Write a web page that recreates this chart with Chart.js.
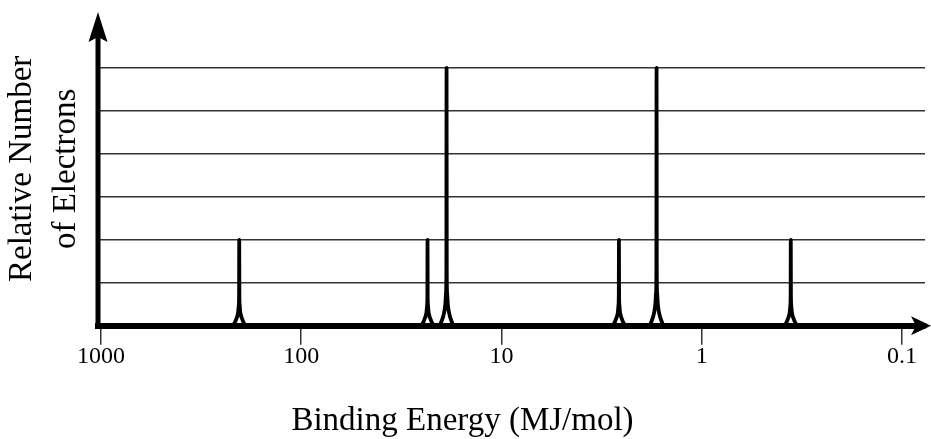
<!DOCTYPE html>
<html>
<head>
<meta charset="utf-8">
<script src="https://cdn.jsdelivr.net/npm/chart.js@4/dist/chart.umd.min.js"></script>
<style>
  html, body { margin: 0; padding: 0; background: #ffffff; }
  #wrap { width: 931px; height: 439px; }
</style>
</head>
<body>
<div id="wrap"><canvas id="c" width="931" height="439"></canvas></div>
<script>
// Binding energies (MJ/mol) along the traced spectrum line
const energies = [
  1000,
  218.59, 216.10, 213.61, 210.69, 208.28, 206.37, 205.18, 204.35, 204,
  203.65, 202.82, 201.66, 199.80, 197.52, 194.82, 192.58, 190.39,
  25.07, 24.79, 24.50, 24.17, 23.89, 23.67, 23.536, 23.440, 23.4,
  23.360, 23.265, 23.132, 22.919, 22.657, 22.347, 22.090, 21.839,
  20.33, 20.05, 19.78, 19.505, 19.261, 19.061, 18.930, 18.843, 18.8,
  18.757, 18.671, 18.542, 18.350, 18.120, 17.871, 17.626, 17.385,
  2.775, 2.744, 2.712, 2.675, 2.644, 2.620, 2.605, 2.5945, 2.59,
  2.5855, 2.5751, 2.5603, 2.5367, 2.5078, 2.4735, 2.4450, 2.4172,
  1.8168, 1.7919, 1.7674, 1.7430, 1.7212, 1.7034, 1.6916, 1.6839, 1.68,
  1.6761, 1.6685, 1.6570, 1.6398, 1.6193, 1.5970, 1.5751, 1.5535,
  0.38467, 0.38029, 0.37591, 0.37078, 0.36654, 0.36316, 0.36108, 0.35962, 0.359,
  0.35838, 0.35693, 0.35488, 0.35162, 0.34760, 0.34285, 0.33890, 0.33505,
  0.0767
];
// Relative number of electrons at each of those energies
const counts = [
  0,
  0, 0.047, 0.093, 0.163, 0.233, 0.326, 0.465, 0.698, 2,
  0.698, 0.465, 0.326, 0.233, 0.163, 0.093, 0.047, 0,
  0, 0.047, 0.093, 0.163, 0.233, 0.326, 0.465, 0.698, 2,
  0.698, 0.465, 0.326, 0.233, 0.163, 0.093, 0.047, 0,
  0, 0.07, 0.14, 0.233, 0.349, 0.512, 0.744, 1.163, 6,
  1.163, 0.744, 0.512, 0.349, 0.233, 0.14, 0.07, 0,
  0, 0.047, 0.093, 0.163, 0.233, 0.326, 0.465, 0.698, 2,
  0.698, 0.465, 0.326, 0.233, 0.163, 0.093, 0.047, 0,
  0, 0.07, 0.14, 0.233, 0.349, 0.512, 0.744, 1.163, 6,
  1.163, 0.744, 0.512, 0.349, 0.233, 0.14, 0.07, 0,
  0, 0.047, 0.093, 0.163, 0.233, 0.326, 0.465, 0.698, 2,
  0.698, 0.465, 0.326, 0.233, 0.163, 0.093, 0.047, 0,
  0
];
const xTickValues = [1000, 100, 10, 1, 0.1];
const xTickLabels = ['1000', '100', '10', '1', '0.1'];
const yGridValues = [0, 1, 2, 3, 4, 5, 6];
const xTitle = 'Binding Energy (MJ/mol)';
const yTitle = ['Relative Number', 'of Electrons'];

const FONT = "'Liberation Serif', 'Times New Roman', serif";

const points = energies.map((e, i) => ({ x: e, y: counts[i] }));

const arrowPlugin = {
  id: 'axisArrows',
  afterDraw(chart) {
    const ctx = chart.ctx;
    const a = chart.chartArea;
    const x0 = a.left;
    const yb = a.bottom;
    ctx.save();
    ctx.fillStyle = '#000';
    ctx.strokeStyle = '#000';
    // vertical axis shaft
    ctx.lineWidth = 5;
    ctx.beginPath();
    ctx.moveTo(x0, yb + 3);
    ctx.lineTo(x0, a.top + 24);
    ctx.stroke();
    // vertical arrow head
    ctx.beginPath();
    ctx.moveTo(x0, a.top);
    ctx.lineTo(x0 + 9.5, a.top + 30);
    ctx.lineTo(x0, a.top + 25);
    ctx.lineTo(x0 - 9.5, a.top + 30);
    ctx.closePath();
    ctx.fill();
    // horizontal arrow head
    const tipX = chart.width;
    ctx.beginPath();
    ctx.moveTo(tipX, yb);
    ctx.lineTo(tipX - 20, yb - 9.5);
    ctx.lineTo(tipX - 15, yb);
    ctx.lineTo(tipX - 20, yb + 9.5);
    ctx.closePath();
    ctx.fill();
    ctx.restore();
  }
};

new Chart(document.getElementById('c'), {
  type: 'line',
  data: {
    datasets: [{
      data: points,
      borderColor: '#000',
      borderWidth: 3.8,
      pointRadius: 0,
      fill: false,
      cubicInterpolationMode: 'monotone',
      borderJoinStyle: 'round',
      borderCapStyle: 'round'
    }]
  },
  options: {
    responsive: false,
    animation: false,
    events: [],
    layout: { padding: { top: 12, right: 6, left: 0, bottom: 0 } },
    plugins: {
      legend: { display: false },
      tooltip: { enabled: false },
      title: {
        display: true,
        position: 'bottom',
        text: xTitle,
        color: '#000',
        font: { family: FONT, size: 33, weight: 'normal', lineHeight: 1.1 },
        padding: { top: 0, bottom: 0 }
      }
    },
    scales: {
      x: {
        type: 'logarithmic',
        reverse: true,
        min: 0.0767,
        max: 1035,
        afterBuildTicks(scale) {
          scale.ticks = xTickValues.map(v => ({ value: v }));
        },
        afterFit(scale) { scale.height = 77; },
        ticks: {
          autoSkip: false,
          maxRotation: 0,
          minRotation: 0,
          padding: 0,
          color: '#000',
          font: { family: FONT, size: 24, lineHeight: 1 },
          callback(value) {
            const i = xTickValues.indexOf(value);
            return i >= 0 ? xTickLabels[i] : '';
          }
        },
        grid: {
          display: true,
          drawOnChartArea: false,
          drawTicks: true,
          tickLength: 19,
          color: '#333',
          lineWidth: 1.5
        },
        border: { display: true, color: '#000', width: 6 }
      },
      y: {
        type: 'linear',
        min: 0,
        max: 7.302,
        afterBuildTicks(scale) {
          scale.ticks = yGridValues.map(v => ({ value: v }));
        },
        afterFit(scale) { scale.width = 98; },
        ticks: { display: false },
        grid: {
          display: true,
          drawOnChartArea: true,
          drawTicks: false,
          color: '#333',
          lineWidth: 1.5
        },
        border: { display: false },
        title: {
          display: true,
          text: yTitle,
          color: '#000',
          font: { family: FONT, size: 33, weight: 'normal', lineHeight: 1.33 },
          padding: { top: 0, bottom: 0 }
        }
      }
    }
  },
  plugins: [arrowPlugin]
});
</script>
</body>
</html>
